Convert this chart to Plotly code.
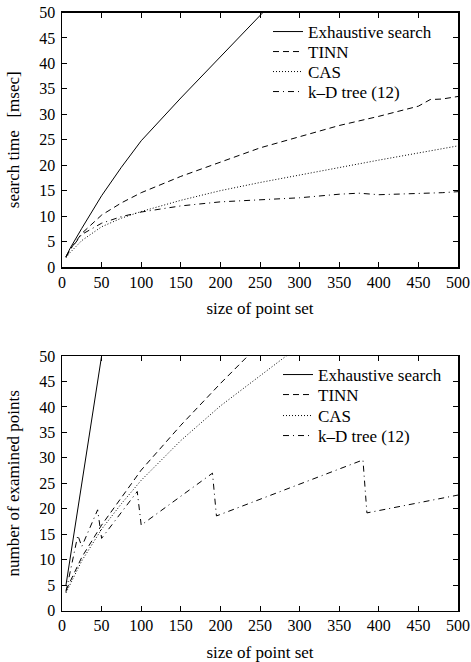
import plotly.graph_objects as go

# ---------------- data ----------------
# top panel: search time [msec] vs size of point set
top_sizes = [5, 10, 25, 50, 75, 100, 150, 200, 250, 300, 350, 375, 400, 450, 465, 480, 500]
top_exhaustive = [2.0, 3.6, 7.6, 14.0, 19.6, 24.8, 33.2, 41.3, 49.5, 57.5,
                  None, None, None, None, None, None, None]
top_tinn = [2.0, 3.4, 6.6, 10.2, 12.6, 14.6, 17.8, 20.6, 23.4, 25.6, 27.8, 28.7,
            29.6, 31.6, 32.9, 33.0, 33.5]
top_cas = [1.8, 2.8, 5.2, 7.9, 9.6, 10.9, 13.1, 15.0, 16.6, 18.1, 19.6, 20.3,
           21.0, 22.4, 22.8, 23.2, 23.8]
top_kd = [2.0, 3.3, 6.4, 8.6, 9.9, 10.8, 12.0, 12.8, 13.2, 13.6, 14.3, 14.5,
          14.2, 14.4, 14.5, 14.6, 14.8]

# bottom panel: number of examined points vs size of point set
bot_sizes = [5, 25, 50, 75, 100, 150, 200, 250, 300]
bot_exhaustive = [5.0, 25.0, 50.0, None, None, None, None, None, None]
bot_tinn = [4.0, 10.5, 16.8, 22.3, 27.6, 36.4, 44.6, 52.4, None]
bot_cas = [3.5, 9.8, 16.0, 21.0, 25.6, 33.4, 40.2, 46.0, 52.0]
bot_kd_sizes = [5, 20, 25, 45, 50, 95, 100, 190, 195, 380, 385, 500]
bot_kd = [3.7, 14.8, 12.6, 19.8, 14.2, 23.4, 16.8, 27.0, 18.6, 29.6, 19.2, 22.7]

series_names = ["Exhaustive search", "TINN", "CAS", "k\u2013D tree (12)"]
x_ticks = [0, 50, 100, 150, 200, 250, 300, 350, 400, 450, 500]
y_ticks = [0, 5, 10, 15, 20, 25, 30, 35, 40, 45, 50]

# ---------------- style ----------------
OFF = 0  # page body margin removed in post_script
W, H = 471, 662
FONT = "Liberation Serif, Times New Roman, serif"
dashes = ["solid", "6px,4px", "1px,2px", "6px,4px,1px,4px"]

fig = go.Figure()

top_data = [(top_sizes, top_exhaustive), (top_sizes, top_tinn),
            (top_sizes, top_cas), (top_sizes, top_kd)]
bot_data = [(bot_sizes, bot_exhaustive), (bot_sizes, bot_tinn),
            (bot_sizes, bot_cas), (bot_kd_sizes, bot_kd)]

for i, (xs, ys) in enumerate(top_data):
    fig.add_trace(go.Scatter(
        x=xs, y=ys, mode="lines", name=series_names[i],
        line=dict(color="black", width=1, dash=dashes[i]),
        xaxis="x", yaxis="y", legend="legend" if i == 0 else f"legend{i + 1}",
        connectgaps=False))

for i, (xs, ys) in enumerate(bot_data):
    fig.add_trace(go.Scatter(
        x=xs, y=ys, mode="lines", name=series_names[i],
        line=dict(color="black", width=1, dash=dashes[i]),
        xaxis="x2", yaxis="y2", legend=f"legend{i + 5}",
        connectgaps=False))

def px_x(p):
    return (p - OFF) / W

def px_y(p):
    return 1 - (p - OFF) / H

x_dom = [px_x(62), px_x(458)]
top_dom = [px_y(267), px_y(12.5)]
bot_dom = [px_y(610.7), px_y(356)]

axis_common = dict(
    showline=True, linecolor="black", linewidth=1.5, mirror="ticks",
    ticks="inside", ticklen=5, tickwidth=1, tickcolor="black",
    showgrid=False, zeroline=False, automargin=False,
    ticklabeloverflow="allow",
    tickfont=dict(family=FONT, size=16, color="black"),
)

legend_rows_top = [32, 52, 72, 92]
legend_rows_bot = [375, 395, 416, 436]

layout = dict(
    template="none",
    width=W, height=H,
    margin=dict(l=0, r=0, t=0, b=0, autoexpand=False),
    paper_bgcolor="white", plot_bgcolor="white",
    font=dict(family=FONT, size=17, color="black"),
    xaxis=dict(domain=x_dom, anchor="y", range=[0, 500], tickvals=x_ticks,
               title=dict(text="size of point set", font=dict(family=FONT, size=17),
                          standoff=12),
               **axis_common),
    yaxis=dict(domain=top_dom, anchor="x", range=[0, 50], tickvals=y_ticks,
               ticklabelstandoff=2,
               title=dict(text="search time\u00a0\u00a0 [msec]",
                          font=dict(family=FONT, size=17), standoff=15),
               **axis_common),
    xaxis2=dict(domain=x_dom, anchor="y2", range=[0, 500], tickvals=x_ticks,
                title=dict(text="size of point set", font=dict(family=FONT, size=17),
                           standoff=12),
                **axis_common),
    yaxis2=dict(domain=bot_dom, anchor="x2", range=[0, 50], tickvals=y_ticks,
                ticklabelstandoff=2,
                title=dict(text="number of examined points",
                           font=dict(family=FONT, size=17), standoff=15),
                **axis_common),
    showlegend=True,
)

for k in range(8):
    key = "legend" if k == 0 else f"legend{k + 1}"
    if k < 4:
        lx, ly = px_x(268), px_y(legend_rows_top[k])
    else:
        lx, ly = px_x(278), px_y(legend_rows_bot[k - 4])
    layout[key] = dict(x=lx, y=ly, xanchor="left", yanchor="middle",
                       bgcolor="rgba(0,0,0,0)", borderwidth=0,
                       font=dict(family=FONT, size=17, color="black"),
                       tracegroupgap=0, itemclick=False, itemdoubleclick=False)

fig.update_layout(**layout)
fig.write_html(
    "out.html",
    config={"displayModeBar": False, "staticPlot": True},
    post_script="document.body.style.margin='0';"
                "document.documentElement.style.overflow='hidden';"
                "document.body.style.overflow='hidden';",
)
